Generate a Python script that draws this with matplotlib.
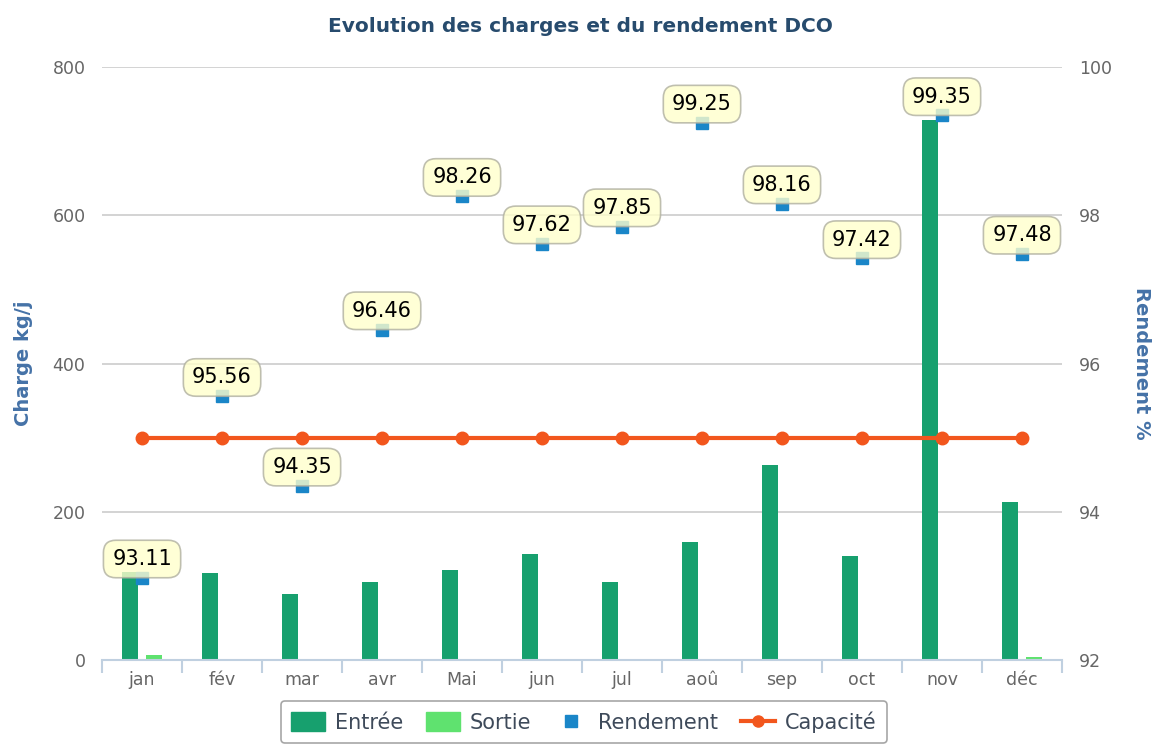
import numpy as np
import matplotlib.pyplot as plt
from matplotlib.patches import Patch
from matplotlib.lines import Line2D

mois = ['jan', 'fév', 'mar', 'avr', 'Mai', 'jun', 'jul', 'aoû', 'sep', 'oct', 'nov', 'déc']
entree = [119, 117, 89, 105, 121, 143, 105, 159, 263, 140, 729, 213]
sortie = [7, 0, 0, 0, 0, 0, 0, 0, 0, 0, 0, 4]
rendement = [93.11, 95.56, 94.35, 96.46, 98.26, 97.62, 97.85, 99.25, 98.16, 97.42, 99.35, 97.48]
capacite = [300] * 12

c_entree = '#17a06e'
c_sortie = '#5fe26f'
c_rend = '#1a86c8'
c_cap = '#f2561d'
c_axis = '#4572a7'
c_tick = '#666666'

plt.rcParams['font.family'] = ['DejaVu Sans']

fig = plt.figure(figsize=(11.61, 7.56), dpi=100)
ax = fig.add_axes([0.0879, 0.127, 0.8268, 0.784])
ax2 = ax.twinx()

x = np.arange(len(mois))
w = 0.2
ax.bar(x - 0.15, entree, w, color=c_entree, zorder=2)
ax.bar(x + 0.15, sortie, w, color=c_sortie, zorder=2)
ax.plot(x, capacite, color=c_cap, lw=3, marker='o', ms=9, zorder=4)

ax.set_xlim(-0.5, 11.5)
ax.set_ylim(0, 800)
ax.set_yticks([0, 200, 400, 600, 800])
ax.grid(axis='y', color='#cccccc', lw=1.2, zorder=0)
ax.set_axisbelow(True)
ax.set_xticks(x)
ax.set_xticklabels(mois)
ax.set_xticks(np.arange(-0.5, 12, 1), minor=True)
ax.tick_params(axis='x', which='major', length=0, pad=8, labelsize=12.5, labelcolor=c_tick)
ax.tick_params(axis='x', which='minor', length=9, color='#c0d0e0', width=1.5)
ax.tick_params(axis='y', length=0, pad=12, labelsize=12.5, labelcolor=c_tick)
for s in ['top', 'left', 'right']:
    ax.spines[s].set_visible(False)
    ax2.spines[s].set_visible(False)
ax.spines['bottom'].set_color('#c0d0e0')
ax.spines['bottom'].set_linewidth(1.5)
ax2.spines['bottom'].set_visible(False)
ax.set_ylabel('Charge kg/j', color=c_axis, fontsize=14, fontweight='bold', labelpad=14)

ax2.set_ylim(92, 100)
ax2.set_yticks([92, 94, 96, 98, 100])
ax2.tick_params(axis='y', length=0, pad=12, labelsize=12.5, labelcolor=c_tick)
ax2.set_ylabel('Rendement %', color=c_axis, fontsize=14, fontweight='bold',
               rotation=270, labelpad=28)
ax2.plot(x, rendement, ls='none', marker='s', ms=9, color=c_rend, zorder=3)
for xi, r in zip(x, rendement):
    ax2.annotate(f'{r:.2f}', (xi, r), xytext=(0, 13.5), textcoords='offset points',
                 ha='center', va='center', fontsize=15, color='black', zorder=6,
                 bbox=dict(boxstyle='round,pad=0.42,rounding_size=0.6',
                           fc='#ffffcc', ec='#b0b0a0', lw=1.2, alpha=0.8))

fig.suptitle('Evolution des charges et du rendement DCO', y=0.978,
             fontsize=14.5, fontweight='bold', color='#274b6d')

handles = [Patch(color=c_entree, label='Entrée'),
           Patch(color=c_sortie, label='Sortie'),
           Line2D([], [], ls='none', marker='s', ms=8, color=c_rend, label='Rendement'),
           Line2D([], [], color=c_cap, lw=3, marker='o', ms=8, label='Capacité')]
leg = fig.legend(handles=handles, loc='lower center', bbox_to_anchor=(0.503, 0.003),
                 ncol=4, fontsize=15, frameon=True, fancybox=True,
                 handlelength=1.6, handleheight=1.0, handletextpad=0.5,
                 columnspacing=1.1, borderpad=0.5)
leg.get_frame().set_edgecolor('#909090')
leg.get_frame().set_linewidth(1.2)
for t in leg.get_texts():
    t.set_color('#3e4a5a')

fig.savefig('out.png', dpi=100)
